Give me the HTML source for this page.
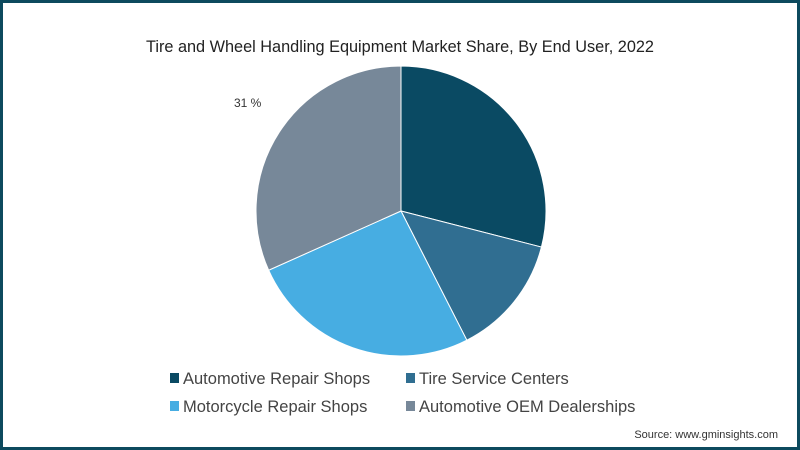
<!DOCTYPE html>
<html><head><meta charset="utf-8"><style>
body{margin:0;width:800px;height:450px;overflow:hidden;background:#fff;font-family:"Liberation Sans",sans-serif}
#frame{position:absolute;left:0;top:0;width:794px;height:444px;border:3px solid #0d4a5e;background:#fff}
</style></head><body>
<div id="frame"></div>
<svg width="800" height="450" style="position:absolute;left:0;top:0">
<text x="400" y="52" text-anchor="middle" font-size="16.3" fill="#222">Tire and Wheel Handling Equipment Market Share, By End User, 2022</text>
<g id="slices"></g>
<text x="234" y="107" font-size="12" fill="#333">31 %</text>
<g id="legend"></g>
<text x="778" y="438" text-anchor="end" font-size="11" fill="#333">Source: www.gminsights.com</text>
</svg>
<script>
const categories=["Automotive Repair Shops","Tire Service Centers","Motorcycle Repair Shops","Automotive OEM Dealerships"];
const values=[29,13.5,25.8,31.7];
const colors=["#0a4a63","#306e91","#47ade2","#778899"];
const cx=401,cy=211,r=145;
const ns="http://www.w3.org/2000/svg";
const total=values.reduce((a,b)=>a+b,0);
let acc=0;
const g=document.getElementById('slices');
function pt(f){const a=f*2*Math.PI;return [cx+r*Math.sin(a),cy-r*Math.cos(a)];}
values.forEach((v,i)=>{
  const s=acc/total;acc+=v;const e=acc/total;
  const [x1,y1]=pt(s),[x2,y2]=pt(e);
  const p=document.createElementNS(ns,'path');
  p.setAttribute('d',`M${cx},${cy}L${x1},${y1}A${r},${r} 0 ${e-s>0.5?1:0} 1 ${x2},${y2}Z`);
  p.setAttribute('fill',colors[i]);p.setAttribute('stroke','#fff');p.setAttribute('stroke-width','1');
  
  
  g.appendChild(p);
});
const lg=document.getElementById('legend');
const lpos=[[170,383],[406,383],[170,411],[406,411]];
categories.forEach((c,i)=>{
  const it=document.createElementNS(ns,'g');
  
  
  const rc=document.createElementNS(ns,'rect');
  rc.setAttribute('x',lpos[i][0]);rc.setAttribute('y',lpos[i][1]-10);rc.setAttribute('width',9);rc.setAttribute('height',10);rc.setAttribute('fill',colors[i]);
  const t=document.createElementNS(ns,'text');
  t.setAttribute('x',lpos[i][0]+13);t.setAttribute('y',lpos[i][1]+1);t.setAttribute('font-size','16.5');t.setAttribute('fill','#444');
  t.textContent=c;
  it.appendChild(rc);it.appendChild(t);lg.appendChild(it);
});
</script>
</body></html>
